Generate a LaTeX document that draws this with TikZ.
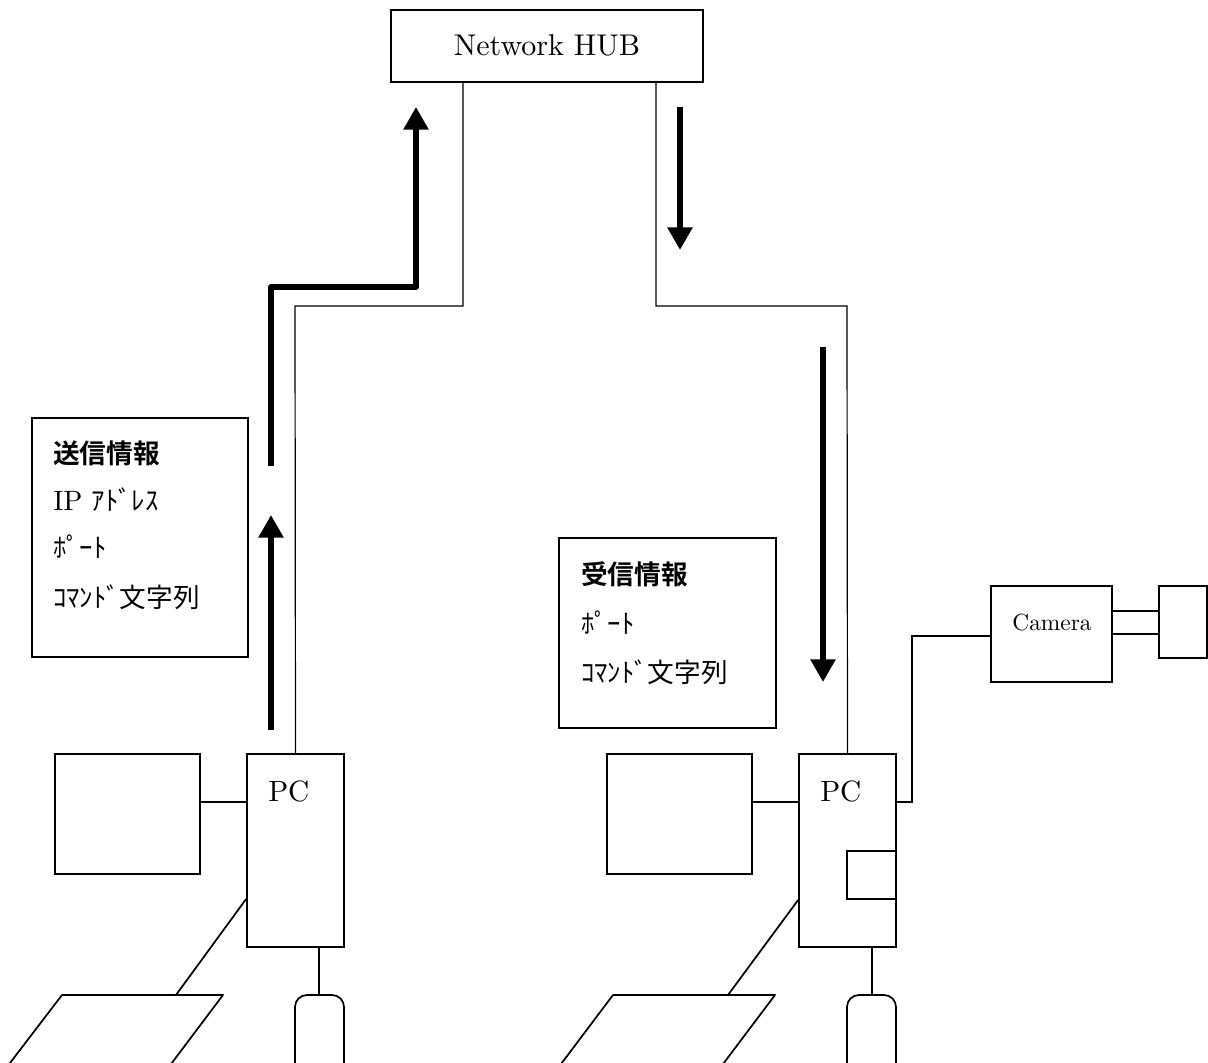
\documentclass[tikz,border=0pt]{standalone}
\usepackage{fontspec}
\setmainfont{lmroman10-regular.otf}[BoldFont=lmroman10-bold.otf, ItalicFont=lmroman10-italic.otf]
\newfontfamily\cjk{Noto Sans CJK JP}
\newfontfamily\cjkb{Noto Sans CJK JP Bold}
\usetikzlibrary{arrows.meta,fit}
\begin{document}
\begin{tikzpicture}[x=0.75pt,y=-0.75pt,
  dev/.style={draw, line width=1.3pt, inner sep=0pt},
  cable/.style={line width=1.3pt},
  net/.style={line width=0.9pt},
  flow/.style={line width=4.5pt, line join=round, -{Triangle[width=18pt,length=17pt]}},
  lbl/.style={inner sep=0pt},
  jtxt/.style={inner sep=0pt, anchor=west, font=\cjk\fontsize{20}{24}\selectfont},
  jhead/.style={inner sep=0pt, anchor=west, font=\cjkb\fontsize{20}{24}\selectfont}]
\useasboundingbox (0,0) rectangle (1208,1063);
\clip (0,0) rectangle (1208,1063);

% Hub
\node[dev, line width=1pt, fit={(391,10)(703,82)}] (hub) {};
\node[lbl, anchor=base, font=\fontsize{22.5}{26}\selectfont] (hubt) at (547,56) {Network HUB};

% PCs
\node[dev, fit={(247,754)(344,947)}] (pcL) {};
\node[dev, fit={(799,754)(896,947)}] (pcR) {};
\node[lbl, anchor=base west, font=\fontsize{22}{26}\selectfont] (pcLt) at (268,801) {PC};
\node[lbl, anchor=base west, font=\fontsize{22}{26}\selectfont] (pcRt) at (820,801) {PC};
\node[dev, fit={(847,851)(896,899)}] (drive) {};

% Monitors
\node[dev, fit={(55,754)(200,874)}] (monL) {};
\node[dev, fit={(607,754)(752,874)}] (monR) {};
\draw[cable] (monL.east |- 0,802) -- (pcL.west |- 0,802);
\draw[cable] (monR.east |- 0,802) -- (pcR.west |- 0,802);

% Keyboards
\coordinate (kbL1) at (62,995); \coordinate (kbL2) at (223,995);
\coordinate (kbL3) at (159,1080); \coordinate (kbL4) at (-3,1080);
\draw[cable, line join=round] (kbL4) -- (kbL1) -- (kbL2) -- (kbL3);
\coordinate (kbLc) at (176,995);
\draw[cable] (pcL.west |- 0,899) -- (kbLc);
\coordinate (kbR1) at (613,995); \coordinate (kbR2) at (775,995);
\coordinate (kbR3) at (711,1080); \coordinate (kbR4) at (549,1080);
\draw[cable, line join=round] (kbR4) -- (kbR1) -- (kbR2) -- (kbR3);
\coordinate (kbRc) at (728,995);
\draw[cable] (pcR.west |- 0,900) -- (kbRc);

% Mice
\draw[cable, rounded corners=9pt] (295,1100) -- (295,995) -- (344,995) -- (344,1100);
\coordinate (msL) at (319,995);
\draw[cable] (pcL.south -| msL) -- (msL);
\draw[cable, rounded corners=9pt] (847,1100) -- (847,995) -- (896,995) -- (896,1100);
\coordinate (msR) at (872,995);
\draw[cable] (pcR.south -| msR) -- (msR);

% Camera
\node[dev, fit={(991,586)(1112,682)}] (cam) {};
\node[lbl, anchor=base, font=\fontsize{17.5}{20}\selectfont] (camt) at (1052,630) {Camera};
\node[dev, fit={(1159,586)(1207,658)}] (lens) {};
\draw[cable] (cam.east |- 0,611) -- (lens.west |- 0,611);
\draw[cable] (cam.east |- 0,634) -- (lens.west |- 0,634);
\draw[cable] (pcR.east |- 0,802) -- (912,802) -- (912,636) -- (cam.west |- 0,636);

% Network cables
\draw[net] (hub.south -| 463,0) -- (463,306) -- (295,306) -- (pcL.north);
\draw[net] (hub.south -| 656,0) -- (656,306) -- (847,306) -- (pcR.north);

% Info boxes
\node[dev, line width=1.1pt, fit={(32,418)(248,657)}] (sendbox) {};
\node[jhead] (s1) at (53,453) {送信情報};
\node[lbl, anchor=base west] (s2) at (53,510) {\fontsize{21}{24}\selectfont IP {\cjk\fontsize{20}{24}\selectfont ｱﾄﾞﾚｽ}};
\node[jtxt] (s3) at (53,547) {ﾎﾟｰﾄ};
\node[jtxt] (s4) at (53,597) {ｺﾏﾝﾄﾞ文字列};

\node[dev, line width=1.1pt, fit={(559,538)(776,728)}] (recvbox) {};
\node[jhead] (r1) at (581,574) {受信情報};
\node[jtxt] (r2) at (581,623) {ﾎﾟｰﾄ};
\node[jtxt] (r3) at (581,672) {ｺﾏﾝﾄﾞ文字列};

% Flow arrows
\coordinate (a1s) at (271,466); \coordinate (a1m) at (271,287);
\coordinate (a1n) at (416,287); \coordinate (a1e) at (416,107);
\draw[flow] (a1s) -- (a1m) -- (a1n) -- (a1e);
\coordinate (a2s) at (271,730); \coordinate (a2e) at (271,515);
\draw[flow] (a2s) -- (a2e);
\coordinate (a3s) at (680,107); \coordinate (a3e) at (680,250);
\draw[flow] (a3s) -- (a3e);
\coordinate (a4s) at (823,347); \coordinate (a4e) at (823,682);
\draw[flow] (a4s) -- (a4e);
\end{tikzpicture}
\end{document}
